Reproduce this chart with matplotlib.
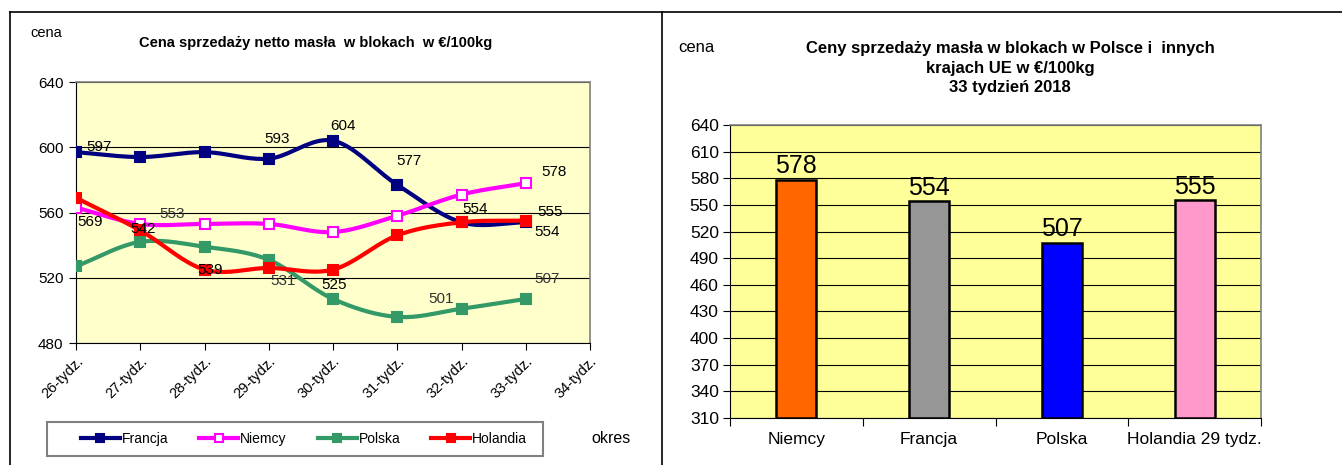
import numpy as np
import matplotlib
matplotlib.use("Agg")
import matplotlib.pyplot as plt
from matplotlib.lines import Line2D
from matplotlib.patches import Rectangle

plt.rcParams['font.family'] = ['Liberation Sans', 'DejaVu Sans']

# ---------------- data ----------------
weeks = ["26-tydz.", "27-tydz.", "28-tydz.", "29-tydz.", "30-tydz.",
         "31-tydz.", "32-tydz.", "33-tydz.", "34-tydz."]
francja = [597, 594, 597, 593, 604, 577, 554, 554]
niemcy = [563, 553, 553, 553, 548, 558, 571, 578]
polska = [527, 542, 539, 531, 507, 496, 501, 507]
holandia = [569, 549, 525, 526, 525, 546, 554, 555]

bar_countries = ["Niemcy", "Francja", "Polska", "Holandia 29 tydz."]
bar_values = [578, 554, 507, 555]

# ---------------- helpers ----------------
def smooth(xs, ys, n=20):
    xs = np.asarray(xs, float); ys = np.asarray(ys, float)
    px = np.concatenate([[2*xs[0]-xs[1]], xs, [2*xs[-1]-xs[-2]]])
    py = np.concatenate([[2*ys[0]-ys[1]], ys, [2*ys[-1]-ys[-2]]])
    ox, oy = [], []
    t = np.linspace(0, 1, n, endpoint=False)
    for i in range(1, len(px)-2):
        p0, p1, p2, p3 = (px[i-1], py[i-1]), (px[i], py[i]), (px[i+1], py[i+1]), (px[i+2], py[i+2])
        for k, arr in ((0, ox), (1, oy)):
            a0, a1, a2, a3 = p0[k], p1[k], p2[k], p3[k]
            v = 0.5*((2*a1) + (-a0+a2)*t + (2*a0-5*a1+4*a2-a3)*t**2 + (-a0+3*a1-3*a2+a3)*t**3)
            arr.extend(v)
    ox.append(xs[-1]); oy.append(ys[-1])
    return np.array(ox), np.array(oy)

W, H = 1342, 465
fig = plt.figure(figsize=(W/100, H/100), dpi=100)

def fx(px): return px / W
def fy(py): return 1 - py / H

# panel frame lines
fig.add_artist(Line2D([fx(10), fx(10)], [0, fy(12)], color='black', lw=1.2))
fig.add_artist(Line2D([fx(10), 1], [fy(12), fy(12)], color='black', lw=1.2))
fig.add_artist(Line2D([fx(662), fx(662)], [0, fy(12)], color='black', lw=1.2))

# ---------------- left chart ----------------
ax = fig.add_axes([fx(76), fy(343), fx(590-76), (343-82)/H])
ax.set_facecolor('#FFFFCC')
x = np.arange(len(francja))
series = [
    ("Francja", francja, '#000080', '#000080'),
    ("Niemcy", niemcy, '#FF00FF', 'white'),
    ("Polska", polska, '#339966', '#339966'),
    ("Holandia", holandia, '#FF0000', '#FF0000'),
]
handles = []
for name, vals, col, fc in series:
    sx, sy = smooth(x, vals)
    ax.plot(sx, sy, color=col, lw=3, zorder=3)
    ax.plot(x, vals, ls='none', marker='s', ms=7, mfc=fc, mec=col, mew=1.5, zorder=4)
    handles.append(Line2D([], [], color=col, lw=3, marker='s', ms=6, mfc=fc, mec=col, mew=1.5))

ax.set_xlim(0, len(weeks)-1)
ax.set_ylim(480, 640)
ax.set_yticks([480, 520, 560, 600, 640])
ax.set_xticks(np.arange(len(weeks)))
ax.set_xticklabels(weeks, rotation=45, ha='right', rotation_mode='anchor', fontsize=10.5)
ax.tick_params(axis='x', length=5, direction='out', pad=3)
ax.tick_params(axis='y', length=5, direction='out', labelsize=11, pad=4)
ax.grid(axis='y', color='black', lw=0.8)
ax.set_axisbelow(True)
for s in ['top', 'right']:
    ax.spines[s].set_color('#808080')
    ax.spines[s].set_linewidth(1.2)
for s in ['left', 'bottom']:
    ax.spines[s].set_color('black')

# data labels: (series values, index, dx px, dy px, color)
left_labels = [
    (francja, 0, 23, 5, 'black'),
    (francja, 3, 8, 20, 'black'),
    (francja, 4, 10, 15, 'black'),
    (francja, 5, 12, 24, 'black'),
    (francja, 7, 21, -10, 'black'),
    (niemcy, 7, 28, 11, 'black'),
    (niemcy, 1, 32, 10, '#333333'),
    (holandia, 0, 14, -24, 'black'),
    (polska, 1, 3, 13, 'black'),
    (polska, 2, 6, -23, 'black'),
    (polska, 3, 14, -21, '#333333'),
    (holandia, 4, 1, -15, 'black'),
    (polska, 6, -20, 10, '#333333'),
    (polska, 7, 21, 20, '#333333'),
    (holandia, 6, 14, 13, 'black'),
    (holandia, 7, 24, 9, 'black'),
]
for vals, i, dx, dy, c in left_labels:
    ax.annotate(str(vals[i]), (i, vals[i]), xytext=(dx, dy), textcoords='offset pixels',
                ha='center', va='center', fontsize=11, color=c, zorder=5)

fig.text(fx(316), fy(43), "Cena sprzedaży netto masła  w blokach  w €/100kg",
         ha='center', va='center', fontsize=10.5, fontweight='bold')
fig.text(fx(46), fy(33), "cena", ha='center', va='center', fontsize=10.5)
fig.text(fx(611), fy(438), "okres", ha='center', va='center', fontsize=11.5)

# legend box + entries
fig.add_artist(Rectangle((fx(47), fy(456)), fx(543-47), (456-422)/H, transform=fig.transFigure,
                         facecolor='white', edgecolor='#808080', lw=1.5, zorder=1))
leg = fig.legend(handles, [s[0] for s in series], loc='center', ncol=4,
                 bbox_to_anchor=(fx(78), fy(452), fx(530-78), (452-426)/H), mode='expand',
                 frameon=False, fontsize=10,
                 handlelength=2.8, handletextpad=0.15, borderaxespad=0, columnspacing=1,
                 borderpad=0.2)
leg.set_zorder(2)

# ---------------- right chart ----------------
ax2 = fig.add_axes([fx(730), fy(418), fx(1261-730), (418-125)/H])
ax2.set_facecolor('#FFFF99')
bar_colors = ['#FF6600', '#969696', '#0000FF', '#FF99CC']
bx = np.arange(len(bar_values))
ax2.bar(bx, np.array(bar_values) - 310, bottom=310, width=0.3, color=bar_colors,
        edgecolor='black', lw=1.8, zorder=3)
for i, v in enumerate(bar_values):
    ax2.text(i, v + 2, str(v), ha='center', va='bottom', fontsize=18, zorder=4)
ax2.set_xlim(-0.5, len(bar_values)-0.5)
ax2.set_ylim(310, 640)
ax2.set_yticks(np.arange(310, 641, 30))
ax2.set_xticks(np.arange(-0.5, len(bar_values), 1.0))
ax2.set_xticklabels([])
ax2.set_xticks(bx, minor=True)
ax2.set_xticklabels(bar_countries, minor=True, fontsize=12.5)
ax2.tick_params(axis='x', which='major', length=6, direction='out')
ax2.tick_params(axis='x', which='minor', length=0, pad=10)
ax2.tick_params(axis='y', length=5, direction='out', labelsize=12.5, pad=3)
ax2.grid(axis='y', color='black', lw=0.8)
ax2.set_axisbelow(True)
for s in ['top', 'right']:
    ax2.spines[s].set_color('#808080')
    ax2.spines[s].set_linewidth(1.2)

fig.text(fx(1010), fy(68), "Ceny sprzedaży masła w blokach w Polsce i  innych\nkrajach UE w €/100kg\n33 tydzień 2018",
         ha='center', va='center', fontsize=12, fontweight='bold', linespacing=1.35)
fig.text(fx(696), fy(47), "cena", ha='center', va='center', fontsize=12)

fig.savefig("out.png", dpi=100)
